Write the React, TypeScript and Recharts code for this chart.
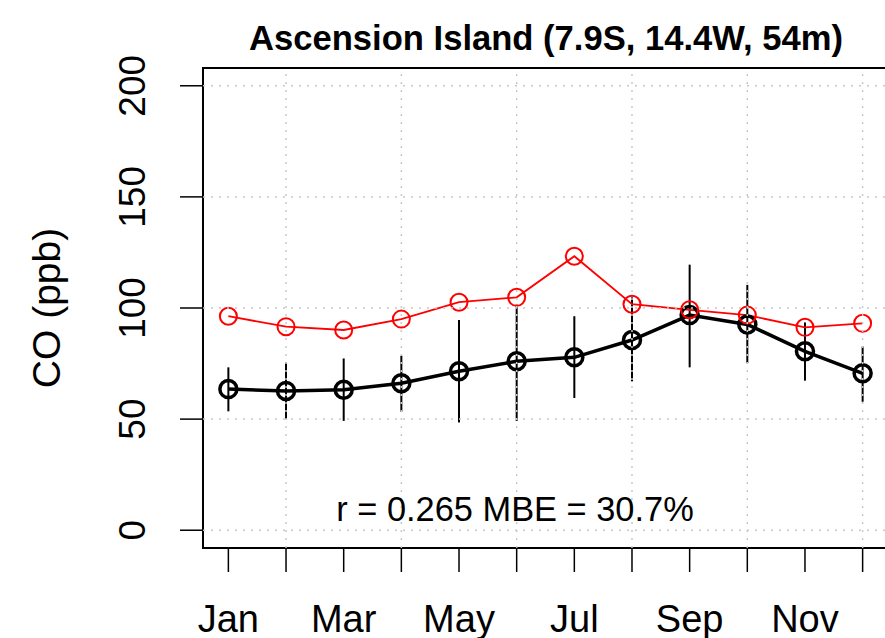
import { ComposedChart, Line, XAxis, YAxis, CartesianGrid, ErrorBar, ReferenceArea, ReferenceLine } from "recharts"

// monthly CO at Ascension Island: observed (black, with spread) vs model (red)
const months = [1, 2, 3, 4, 5, 6, 7, 8, 9, 10, 11, 12]
const monthNames = ["Jan", "Feb", "Mar", "Apr", "May", "Jun", "Jul", "Aug", "Sep", "Oct", "Nov", "Dec"]
const shownLabels = ["Jan", "Mar", "May", "Jul", "Sep", "Nov"]
const obsCO = [63.5, 62.7, 63.2, 66.1, 71.5, 76.0, 77.8, 85.6, 96.8, 92.6, 80.5, 70.6]
const obsLow = [53.5, 50.0, 49.2, 53.3, 48.5, 49.2, 59.5, 67.0, 73.3, 75.2, 67.3, 57.8]
const obsHigh = [73.3, 75.5, 77.3, 78.5, 94.6, 101.5, 96.3, 104.8, 119.5, 110.4, 93.5, 82.7]
const modelCO = [96.3, 91.6, 90.1, 95.0, 102.6, 104.8, 123.3, 101.7, 99.2, 96.8, 91.3, 93.1]
const yTicks = [0, 50, 100, 150, 200]
const gridMonths = [2, 4, 6, 8, 10, 12]
const xDomain = [0.56, 12.44]
const yDomain = [-8, 208]

const title = "Ascension Island (7.9S, 14.4W, 54m)"
const yTitle = "CO (ppb)"
const statsText = "r = 0.265 MBE = 30.7%"

const font = "'Liberation Sans', Arial, Helvetica, sans-serif"
const gridStyle = { stroke: "#c8c8c8", strokeDasharray: "2 6", strokeWidth: 1.5 }

const data = months.map((m, i) => ({
  month: m,
  obs: obsCO[i],
  err: [obsCO[i] - obsLow[i], obsHigh[i] - obsCO[i]],
  model: modelCO[i],
}))

function MonthTick({ x, y, payload }: any) {
  const name = monthNames[payload.value - 1]
  const label = shownLabels.includes(name) ? name : ""
  return (
    <text x={x} y={y + 58} textAnchor="middle" fontSize={38} fontFamily={font} fill="#000">
      {label}
    </text>
  )
}

function ValueTick({ x, y, payload }: any) {
  return (
    <text
      transform={`translate(${x - 33},${y}) rotate(-90)`}
      textAnchor="middle"
      fontSize={37}
      fontFamily={font}
      fill="#000"
    >
      {payload.value}
    </text>
  )
}

export default function App() {
  return (
    <div style={{ position: "absolute", left: 0, top: 0, width: 885, height: 638, background: "#fff" }}>
      <ComposedChart
        width={885}
        height={638}
        data={data}
        margin={{ top: 68, right: -3, bottom: 0, left: 0 }}
      >
        <XAxis
          dataKey="month"
          type="number"
          domain={xDomain}
          ticks={months}
          interval={0}
          allowDataOverflow
          height={90}
          tickSize={24}
          tickLine={{ stroke: "#000", strokeWidth: 1.5 }}
          axisLine={{ stroke: "#000", strokeWidth: 2 }}
          tick={<MonthTick />}
        />
        <YAxis
          type="number"
          domain={yDomain}
          ticks={yTicks}
          interval={0}
          allowDataOverflow
          width={203}
          tickSize={23}
          tickLine={{ stroke: "#000", strokeWidth: 1.5 }}
          axisLine={{ stroke: "#000", strokeWidth: 2 }}
          tick={<ValueTick />}
        />
        <ReferenceArea
          x1={xDomain[0]}
          x2={xDomain[1]}
          y1={yDomain[0]}
          y2={yDomain[1]}
          fill="none"
          fillOpacity={0}
          stroke="#000"
          strokeWidth={2}
          ifOverflow="visible"
        />
        <Line
          dataKey="obs"
          stroke="#000"
          strokeWidth={3.5}
          dot={{ r: 8.5, stroke: "#000", strokeWidth: 3.5, fill: "none" }}
          isAnimationActive={false}
        >
          <ErrorBar dataKey="err" direction="y" width={0} stroke="#000" strokeWidth={2} isAnimationActive={false} />
        </Line>
        <Line
          dataKey="model"
          stroke="#ff0000"
          strokeWidth={1.8}
          dot={{ r: 8.5, stroke: "#ff0000", strokeWidth: 2, fill: "none" }}
          isAnimationActive={false}
        />
        <CartesianGrid {...gridStyle} vertical={false} horizontalValues={yTicks} zIndex={1000} />
        {gridMonths.map((m) => (
          <ReferenceLine key={m} x={m} {...gridStyle} zIndex={1000} />
        ))}
      </ComposedChart>
      <svg
        width={885}
        height={638}
        style={{ position: "absolute", left: 0, top: 0, pointerEvents: "none" }}
      >
        <text x={546} y={50} textAnchor="middle" fontSize={34.6} fontWeight="bold" fontFamily={font} fill="#000">
          {title}
        </text>
        <text
          transform="translate(60,308) rotate(-90)"
          textAnchor="middle"
          fontSize={39}
          fontFamily={font}
          fill="#000"
        >
          {yTitle}
        </text>
        <text x={515} y={521} textAnchor="middle" fontSize={34.4} fontFamily={font} fill="#000">
          {statsText}
        </text>
      </svg>
    </div>
  )
}
